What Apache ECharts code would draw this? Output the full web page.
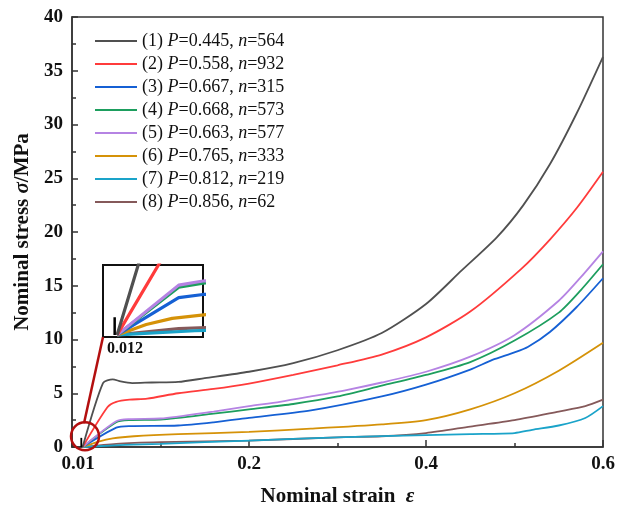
<!DOCTYPE html>
<html>
<head>
<meta charset="utf-8">
<script src="https://cdn.jsdelivr.net/npm/echarts@6/dist/echarts.min.js"></script>
<style>html,body{margin:0;padding:0;background:#fff;}#c{width:633px;height:517px;}</style>
</head>
<body>
<div id="c"></div>
<script>
// ---- data (strain, stress MPa) ----
const seriesNames = [
  '(1) P=0.445, n=564', '(2) P=0.558, n=932', '(3) P=0.667, n=315', '(4) P=0.668, n=573',
  '(5) P=0.663, n=577', '(6) P=0.765, n=333', '(7) P=0.812, n=219', '(8) P=0.856, n=62'
];
const colors = ['#505050', '#ff3b3b', '#1560d4', '#1d9e5e', '#b583e3', '#d59208', '#1aa3c9', '#85595a'];

const strain1 = [0.012, 0.035, 0.046, 0.055, 0.068, 0.09, 0.12, 0.15, 0.2, 0.25, 0.3, 0.35, 0.4, 0.44, 0.48, 0.51, 0.54, 0.57, 0.6];
const stress1 = [0, 5.95, 6.3, 6.1, 5.95, 6.0, 6.05, 6.4, 7.0, 7.8, 9.0, 10.6, 13.3, 16.4, 19.5, 22.5, 26.3, 31.0, 36.3];

const strain2 = [0.012, 0.04, 0.05, 0.065, 0.085, 0.12, 0.16, 0.2, 0.25, 0.3, 0.35, 0.4, 0.45, 0.508, 0.54, 0.571, 0.6];
const stress2 = [0, 3.7, 4.2, 4.4, 4.5, 5.0, 5.4, 5.9, 6.7, 7.6, 8.6, 10.2, 12.6, 16.6, 19.3, 22.3, 25.6];

const strain3 = [0.012, 0.05, 0.065, 0.12, 0.16, 0.2, 0.27, 0.35, 0.4, 0.45, 0.475, 0.5, 0.515, 0.54, 0.57, 0.6];
const stress3 = [0, 1.8, 1.95, 2.0, 2.3, 2.7, 3.4, 4.7, 5.8, 7.2, 8.1, 8.8, 9.3, 10.7, 13.0, 15.7];

const strain4 = [0.012, 0.05, 0.065, 0.1, 0.16, 0.2, 0.25, 0.3, 0.35, 0.4, 0.45, 0.5, 0.55, 0.575, 0.6];
const stress4 = [0, 2.3, 2.5, 2.55, 3.1, 3.5, 4.0, 4.7, 5.7, 6.7, 7.9, 9.9, 12.5, 14.6, 17.0];

const strain5 = [0.012, 0.05, 0.065, 0.1, 0.16, 0.2, 0.235, 0.27, 0.31, 0.35, 0.4, 0.45, 0.5, 0.55, 0.575, 0.6];
const stress5 = [0, 2.4, 2.6, 2.65, 3.3, 3.8, 4.2, 4.7, 5.3, 6.0, 7.0, 8.4, 10.4, 13.6, 15.8, 18.2];

const strain6 = [0.012, 0.03, 0.046, 0.07, 0.12, 0.2, 0.27, 0.35, 0.4, 0.45, 0.5, 0.55, 0.6];
const stress6 = [0, 0.5, 0.8, 1.0, 1.2, 1.4, 1.7, 2.1, 2.5, 3.5, 5.0, 7.1, 9.7];

const strain7 = [0.012, 0.06, 0.1, 0.2, 0.3, 0.4, 0.45, 0.5, 0.52, 0.55, 0.58, 0.6];
const stress7 = [0, 0.2, 0.3, 0.6, 0.9, 1.1, 1.2, 1.3, 1.6, 2.0, 2.7, 3.8];

const strain8 = [0.012, 0.05, 0.1, 0.2, 0.3, 0.35, 0.4, 0.45, 0.5, 0.55, 0.58, 0.6];
const stress8 = [0, 0.3, 0.45, 0.6, 0.9, 1.0, 1.3, 1.9, 2.5, 3.3, 3.8, 4.4];

const markStrain = [0.0105, 0.0105];
const markStress = [0, 0.85];

const xTickLabels = { 0: '0.01', 0.2: '0.2', 0.4: '0.4', 0.6: '0.6' };
const insetLabel = '0.012';

const strains = [strain1, strain2, strain3, strain4, strain5, strain6, strain7, strain8];
const stresses = [stress1, stress2, stress3, stress4, stress5, stress6, stress7, stress8];
const drawOrder = [7, 6, 5, 2, 3, 4, 1, 0];

const serif = '"Liberation Serif", "Times New Roman", serif';
const zip = (a, b) => a.map((v, i) => [v, b[i]]);

const series = [];
drawOrder.forEach(i => {
  series.push({
    name: seriesNames[i], type: 'line', xAxisIndex: 0, yAxisIndex: 0,
    data: zip(strains[i], stresses[i]), symbol: 'none', smooth: 0.25,
    lineStyle: { color: colors[i], width: 1.8 }, itemStyle: { color: colors[i] },
    z: 3, animation: false
  });
});
drawOrder.forEach(i => {
  series.push({
    name: seriesNames[i], type: 'line', xAxisIndex: 1, yAxisIndex: 1,
    data: zip(strains[i], stresses[i]), symbol: 'none',
    lineStyle: { color: colors[i], width: 3.2 }, itemStyle: { color: colors[i] },
    z: 6, animation: false, clip: true
  });
});
[0, 1].forEach(g => {
  series.push({
    type: 'line', xAxisIndex: g, yAxisIndex: g, data: zip(markStrain, markStress),
    symbol: 'none', lineStyle: { color: '#000', width: g ? 2.5 : 1.8 }, z: 6, animation: false
  });
});

const chart = echarts.init(document.getElementById('c'), null, { renderer: 'canvas' });
const insetBox = { left: 103, top: 265, width: 100, height: 72 };

chart.setOption({
  backgroundColor: '#fff',
  animation: false,
  legend: {
    data: drawOrder.slice().sort((a, b) => a - b).map(i => seriesNames[i]),
    orient: 'vertical', left: 90, top: 26, itemWidth: 42, itemHeight: 14, itemGap: 3,
    icon: 'path://M0,0 L42,0 L42,1.8 L0,1.8 Z',
    textStyle: {
      fontFamily: serif, fontSize: 18, color: '#111', lineHeight: 20,
      rich: { i: { fontFamily: serif, fontSize: 18, fontStyle: 'italic', color: '#111' } }
    },
    formatter: n => n.replace('P=', '{i|P}=').replace('n=', '{i|n}=')
  },
  grid: [
    { left: 72, right: 30, top: 17, bottom: 70, show: true, borderColor: '#333', borderWidth: 1.5, backgroundColor: 'transparent' },
    { left: insetBox.left, top: insetBox.top, width: insetBox.width, height: insetBox.height, show: true, borderColor: '#111', borderWidth: 2, backgroundColor: '#fff', z: 5 }
  ],
  xAxis: [
    {
      type: 'value', gridIndex: 0, min: 0, max: 0.6, interval: 0.2,
      name: 'Nominal strain  {i|ε}', nameLocation: 'middle', nameGap: 39,
      nameTextStyle: { fontFamily: serif, fontSize: 21, fontWeight: 'bold', color: '#111',
        rich: { i: { fontFamily: serif, fontSize: 21, fontStyle: 'italic', color: '#111' } } },
      axisLine: { show: true, lineStyle: { color: '#333', width: 1.5 } },
      axisTick: { show: true, inside: true, length: 7, lineStyle: { color: '#333', width: 1.5 } },
      minorTick: { show: true, splitNumber: 2, length: 4, lineStyle: { color: '#333', width: 1.5 } },
      splitLine: { show: false },
      axisLabel: {
        margin: 8, fontFamily: serif, fontSize: 19, fontWeight: 'bold', color: '#111',
        formatter: v => {
          const k = Math.round(v * 10) / 10;
          const t = xTickLabels[k];
          if (t === undefined) return '';
          return k === 0 ? '{a|' + t + '}' : t;
        },
        rich: { a: { fontFamily: serif, fontSize: 19, fontWeight: 'bold', color: '#111', padding: [0, 0, 0, 12] } }
      }
    },
    { type: 'value', gridIndex: 1, min: 0.0033, max: 0.065, show: false }
  ],
  yAxis: [
    {
      type: 'value', gridIndex: 0, min: 0, max: 40, interval: 5,
      name: 'Nominal stress {i|σ}/MPa', nameLocation: 'middle', nameGap: 36, nameRotate: 90,
      nameTextStyle: { fontFamily: serif, fontSize: 21, fontWeight: 'bold', color: '#111',
        rich: { i: { fontFamily: serif, fontSize: 21, fontStyle: 'italic', color: '#111' } } },
      axisLine: { show: true, lineStyle: { color: '#333', width: 1.5 } },
      axisTick: { show: true, inside: true, length: 6, lineStyle: { color: '#333', width: 1.5 } },
      minorTick: { show: true, splitNumber: 2, length: 4, lineStyle: { color: '#333', width: 1.5 } },
      splitLine: { show: false },
      axisLabel: { margin: 9, fontFamily: serif, fontSize: 19, fontWeight: 'bold', color: '#111' }
    },
    { type: 'value', gridIndex: 1, min: -0.1, max: 3.37, show: false }
  ],
  series: series
});

// annotations: circle around the origin region, connector to the inset, inset label
const c = chart.convertToPixel({ gridIndex: 0 }, [0.0147, 1.0]);
const r = 14;
chart.setOption({
  graphic: [
    { type: 'circle', shape: { cx: c[0], cy: c[1], r: r }, style: { fill: 'none', stroke: '#b30f0f', lineWidth: 2.5 }, z: 20 },
    { type: 'line', shape: { x1: insetBox.left, y1: insetBox.top + insetBox.height, x2: c[0] - 1, y2: c[1] - r + 1 },
      style: { stroke: '#b30f0f', lineWidth: 2.5 }, z: 20 },
    { type: 'text', left: insetBox.left + 4, top: insetBox.top + insetBox.height + 4,
      style: { text: insetLabel, font: 'bold 16px "Liberation Serif", serif', fill: '#111' }, z: 20 }
  ]
});
</script>
</body>
</html>
